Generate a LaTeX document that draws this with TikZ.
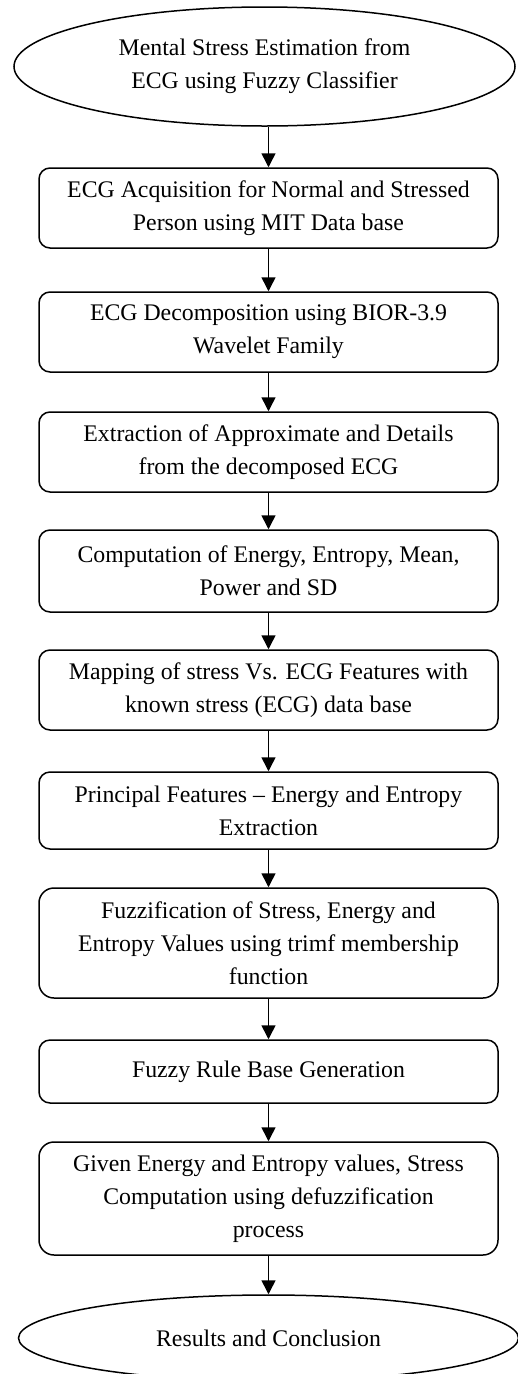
\documentclass[tikz,border=0pt]{standalone}
\usepackage{fontspec}
\setmainfont{Liberation Serif}
\usetikzlibrary{shapes.geometric,arrows.meta}
\begin{document}
\begin{tikzpicture}[x=1pt,y=-1pt,
  every node/.style={font=\fontsize{23.8}{33}\selectfont, align=center, inner sep=0pt},
  stepbox/.style={draw, line width=1.5pt, rounded corners=11pt, minimum width=459pt},
  oval/.style={draw, line width=1.5pt, ellipse},
  arr/.style={line width=1.5pt, -{Triangle[length=14pt,width=14pt]}}]
\useasboundingbox (0,0) rectangle (517,1374);
\fill[white] (0,0) rectangle (517,1374);
\node[oval, minimum width=501pt, minimum height=119pt] (e1) at (264.5,66.5) {Mental Stress Estimation from\\ECG using Fuzzy Classifier};
\node[stepbox, minimum height=80pt] (b1) at (268.5,208) {ECG Acquisition for Normal and Stressed\\Person using MIT Data base};
\node[stepbox, minimum height=80pt] (b2) at (268.5,332) {ECG Decomposition using BIOR-3.9\\Wavelet Family};
\node[stepbox, minimum height=80pt] (b3) at (268.5,452) {Extraction of Approximate and Details\\from the decomposed ECG};
\node[stepbox, minimum height=82pt] (b4) at (268.5,571) {Computation of Energy, Entropy, Mean,\\Power and SD};
\node[stepbox, minimum height=80pt] (b5) at (268.5,690) {Mapping of stress Vs. ECG Features with\\known stress (ECG) data base};
\node[stepbox, minimum height=77pt] (b6) at (268.5,810.5) {Principal Features – Energy and Entropy\\Extraction};
\node[stepbox, minimum height=110pt, rounded corners=15pt] (b7) at (268.5,943) {Fuzzification of Stress, Energy and\\Entropy Values using trimf membership\\function};
\node[stepbox, minimum height=63pt] (b8) at (268.5,1071.5) {Fuzzy Rule Base Generation};
\node[stepbox, minimum height=113pt, rounded corners=15pt] (b9) at (268.5,1198.5) {Given Energy and Entropy values, Stress\\Computation using defuzzification\\process};
\node[oval, minimum width=500pt, minimum height=86pt] (e2) at (268.5,1338) {Results and Conclusion};
\draw[arr] (b1.north |- e1.south) -- (b1.north);
\draw[arr] (b1) -- (b2);
\draw[arr] (b2) -- (b3);
\draw[arr] (b3) -- (b4);
\draw[arr] (b4) -- (b5);
\draw[arr] (b5) -- (b6);
\draw[arr] (b6) -- (b7);
\draw[arr] (b7) -- (b8);
\draw[arr] (b8) -- (b9);
\draw[arr] (b9) -- (e2);
\end{tikzpicture}
\end{document}
